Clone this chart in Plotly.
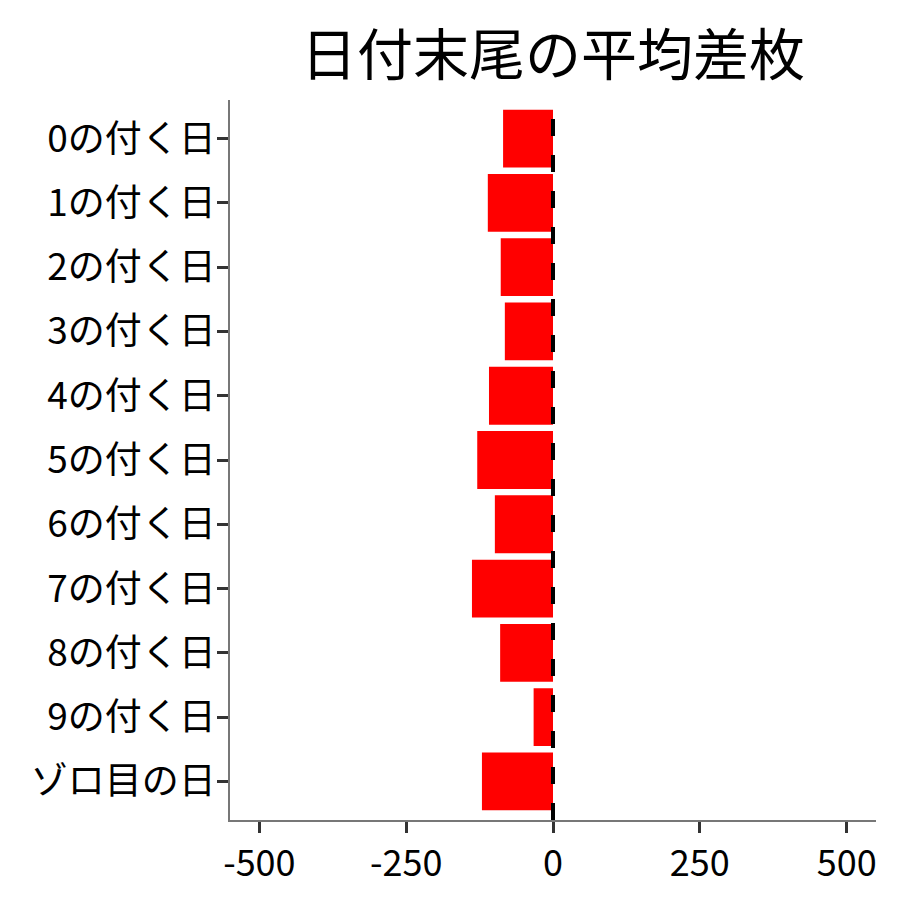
import plotly.graph_objects as go

categories = ["0の付く日", "1の付く日", "2の付く日", "3の付く日", "4の付く日",
              "5の付く日", "6の付く日", "7の付く日", "8の付く日", "9の付く日",
              "ゾロ目の日"]
diff = [-85, -111, -89, -82, -109, -129, -99, -138, -90, -33, -121]
xticks = [-500, -250, 0, 250, 500]
xticklabels = ["-500", "-250", "0", "250", "500"]

font = "Noto Sans CJK JP"

fig = go.Figure()
fig.add_trace(go.Bar(x=diff, y=categories, orientation="h",
                     marker=dict(color="#FF0000", line=dict(width=0)),
                     width=0.9, showlegend=False))

fig.add_shape(type="line", xref="x", yref="paper", x0=0, x1=0, y0=0, y1=1,
              line=dict(color="black", width=4, dash="17px,19px"), layer="above")

fig.update_layout(
    width=900, height=900,
    paper_bgcolor="white", plot_bgcolor="white",
    margin=dict(l=222, r=32, t=92, b=88),
    font=dict(family=font, color="black", size=36),
    title=dict(text="日付末尾の平均差枚", xref="paper", x=0.5, xanchor="center",
               y=0.947, yanchor="middle", font=dict(size=56, family=font)),
    xaxis=dict(range=[-550, 550], tickvals=xticks, ticktext=xticklabels,
               showgrid=False, zeroline=False, showline=True,
               linecolor="#777", linewidth=1.5,
               ticks="outside", ticklen=11, tickwidth=3, tickcolor="#333",
               tickfont=dict(size=36)),
    yaxis=dict(categoryorder="array", categoryarray=categories,
               range=[10.6, -0.6], showgrid=False, zeroline=False,
               showline=True, linecolor="#777", linewidth=1.5,
               ticks="outside", ticklen=11, tickwidth=3, tickcolor="#333",
               ticklabelstandoff=-6, tickfont=dict(size=37)),
)

fig.write_html("out.html")
